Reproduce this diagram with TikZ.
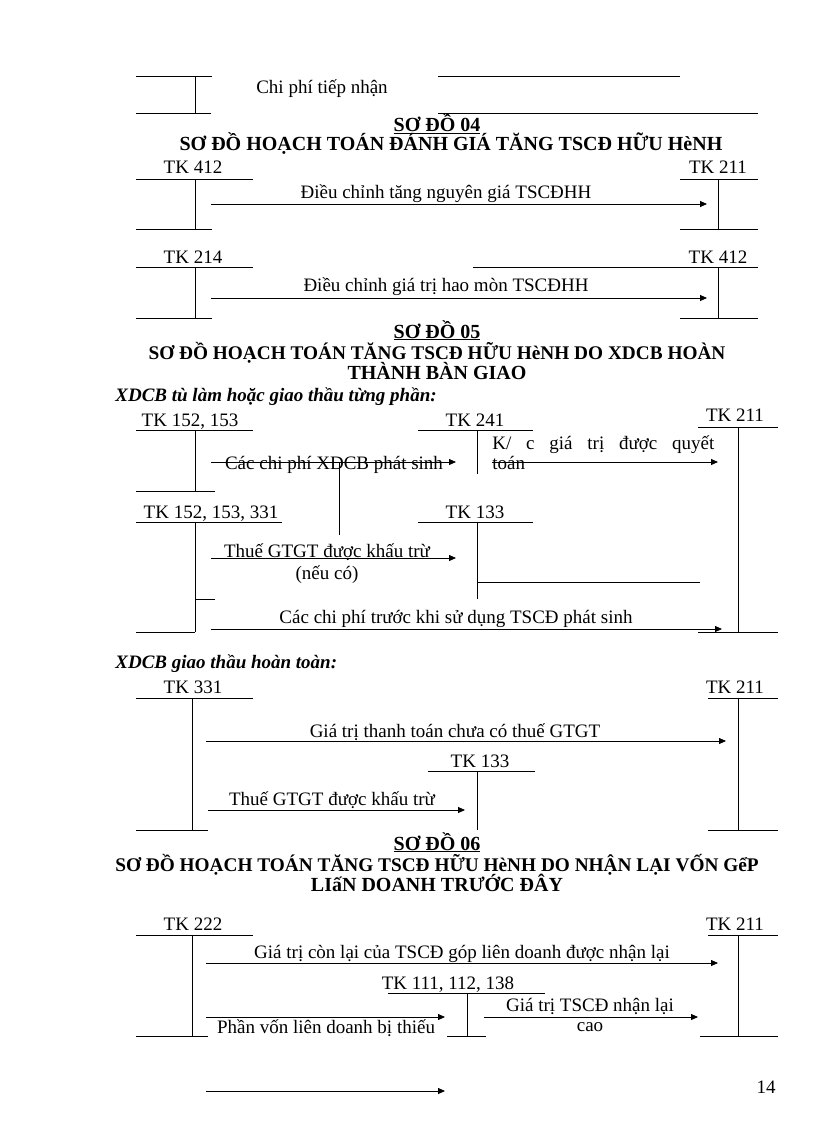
\documentclass[tikz,border=0pt]{standalone}
\usepackage{fontspec}
\setmainfont{Liberation Serif}
\usetikzlibrary{arrows.meta}
\begin{document}
\begin{tikzpicture}[x=1pt,y=-1pt,line width=0.8pt,
  lbl/.style={font=\fontsize{19}{22}\selectfont,inner sep=0pt,anchor=base},
  hd/.style={font=\bfseries\fontsize{20}{23}\selectfont,inner sep=0pt,anchor=base},
  hdn/.style={font=\bfseries\fontsize{19.3}{23}\selectfont,inner sep=0pt,anchor=base},
  sub/.style={font=\bfseries\itshape\fontsize{19}{22}\selectfont,inner sep=0pt,anchor=base west},
  arr/.style={-{Triangle[length=7pt,width=6pt]}},
  tline/.style={line width=0.8pt}]
\useasboundingbox (0,0) rectangle (816,1123);

% ---------- top fragment ----------
\draw[tline] (136,76) -- (212,76);
\draw[tline] (195,76) -- (195,113);
\draw[tline] (136,113) -- (211,113);
\draw[tline] (438,76) -- (680,76);
\draw[tline] (438,113) -- (758,113);
\node[lbl] (chiphi) at (322,94) {Chi phí tiếp nhận};

% ---------- SO DO 04 ----------
\node[hd] (s04) at (437,132) {\underline{SƠ ĐỒ 04}};
\node[hd] (h04) at (451,151) {SƠ ĐỒ HOẠCH TOÁN ĐÁNH GIÁ TĂNG TSCĐ HỮU HèNH};

% 04a
\node[lbl] (tk412a) at (193,174) {TK 412};
\draw[tline] (136,179) -- (253,179);
\draw[tline] (195,179) -- (195,229);
\draw[tline] (136,229) -- (212,229);
\node[lbl] (tk211a) at (718,174) {TK 211};
\draw[tline] (680,179) -- (758,179);
\draw[tline] (718,179) -- (718,229);
\draw[tline] (680,229) -- (758,229);
\coordinate (a1s) at (211,204);
\coordinate (a1e) at (707,204);
\draw[arr] (a1s) -- (a1e);
\node[lbl] (l1) at (446,199) {Điều chỉnh tăng nguyên giá TSCĐHH};

% 04b
\node[lbl] (tk214) at (193,263) {TK 214};
\draw[tline] (136,267) -- (253,267);
\draw[tline] (195,267) -- (195,318);
\draw[tline] (136,318) -- (212,318);
\node[lbl] (tk412b) at (718,263) {TK 412};
\draw[tline] (473,267) -- (758,267);
\draw[tline] (718,267) -- (718,318);
\draw[tline] (680,318) -- (758,318);
\coordinate (a2s) at (211,298);
\coordinate (a2e) at (707,298);
\draw[arr] (a2s) -- (a2e);
\node[lbl] (l2) at (446,291) {Điều chỉnh giá trị hao mòn TSCĐHH};

% ---------- SO DO 05 ----------
\node[hd] (s05) at (437,338) {\underline{SƠ ĐỒ 05}};
\node[hdn] (h05a) at (437,359) {SƠ ĐỒ HOẠCH TOÁN TĂNG TSCĐ HỮU HèNH DO XDCB HOÀN};
\node[hd] (h05b) at (437,379) {THÀNH BÀN GIAO};
\node[sub] (sub1) at (115,401) {XDCB tù làm hoặc giao thầu từng phần:};

% 05a
\node[lbl] (tk152a) at (190,426) {TK 152, 153};
\draw[tline] (136,430) -- (253,430);
\draw[tline] (195,430) -- (195,491);
\draw[tline] (136,491) -- (215,491);
\node[lbl] (tk241) at (475,426) {TK 241};
\draw[tline] (418,430) -- (533,430);
\draw[tline] (477,430) -- (477,474);
\node[lbl] (tk211b) at (735,421) {TK 211};
\draw[tline] (698,427) -- (778,427);
\draw[tline] (738,427) -- (738,632);
\draw[tline] (698,632) -- (778,632);
\node[lbl] (l3) at (334,469) {Các chi phí XDCB phát sinh};
\coordinate (a3s) at (211,462);
\coordinate (a3e) at (456,462);
\draw[arr] (a3s) -- (a3e);
\draw[tline] (339,462) -- (339,535);
\node[lbl,anchor=base west] (l4a) at (492,449) {\makebox[222pt][s]{K/ c giá trị được quyết}};
\node[lbl,anchor=base west] (l4b) at (492,469) {toán};
\coordinate (a4s) at (492,462);
\coordinate (a4e) at (718,462);
\draw[arr] (a4s) -- (a4e);

% 05b
\node[lbl] (tk152b) at (211,518) {TK 152, 153, 331};
\draw[tline] (136,522) -- (282,522);
\draw[tline] (195,522) -- (195,632);
\draw[tline] (195,599) -- (215,599);
\draw[tline] (136,632) -- (195,632);
\node[lbl] (tk133a) at (475,518) {TK 133};
\draw[tline] (418,522) -- (533,522);
\draw[tline] (477,522) -- (477,599);
\draw[tline] (477,582) -- (700,582);
\node[lbl] (l5a) at (327,557) {Thuế GTGT được khấu trừ};
\node[lbl] (l5b) at (327,579) {(nếu có)};
\coordinate (a5s) at (211,558);
\coordinate (a5e) at (456,558);
\draw[arr] (a5s) -- (a5e);
\node[lbl] (l6) at (456,623) {Các chi phí trước khi sử dụng TSCĐ phát sinh};
\coordinate (a6s) at (211,629);
\coordinate (a6e) at (722,629);
\draw[arr] (a6s) -- (a6e);

% 05c
\node[sub] (sub2) at (115,668) {XDCB giao thầu hoàn toàn:};
\node[lbl] (tk331) at (193,693) {TK 331};
\draw[tline] (136,698) -- (253,698);
\draw[tline] (192,698) -- (192,830);
\draw[tline] (136,830) -- (208,830);
\node[lbl] (tk211c) at (735,693) {TK 211};
\draw[tline] (708,698) -- (778,698);
\draw[tline] (738,698) -- (738,830);
\draw[tline] (708,830) -- (778,830);
\node[lbl] (l7) at (455,737) {Giá trị thanh\ toán chưa có thuế GTGT};
\coordinate (a7s) at (206,741);
\coordinate (a7e) at (726,741);
\draw[arr] (a7s) -- (a7e);
\node[lbl] (tk133b) at (480,767) {TK 133};
\draw[tline] (428,771) -- (535,771);
\draw[tline] (477,771) -- (477,830);
\node[lbl] (l8) at (332,805) {Thuế GTGT được khấu trừ};
\coordinate (a8s) at (208,810);
\coordinate (a8e) at (465,810);
\draw[arr] (a8s) -- (a8e);

% ---------- SO DO 06 ----------
\node[hd] (s06) at (437,850) {\underline{SƠ ĐỒ 06}};
\node[hdn] (h06a) at (437,871) {SƠ ĐỒ HOẠCH TOÁN TĂNG TSCĐ HỮU HèNH DO NHẬN LẠI VỐN GểP};
\node[hd] (h06b) at (437,891) {LIấN DOANH TRƯỚC ĐÂY};

\node[lbl] (tk222) at (193,930) {TK 222};
\draw[tline] (136,935) -- (253,935);
\draw[tline] (192,935) -- (192,1036);
\draw[tline] (136,1036) -- (208,1036);
\node[lbl] (tk211d) at (735,930) {TK 211};
\draw[tline] (708,935) -- (778,935);
\draw[tline] (738,935) -- (738,1036);
\draw[tline] (700,1036) -- (778,1036);
\node[lbl] (l9) at (462,958) {Giá trị còn lại\ của TSCĐ góp liên\ doanh được nhận lại};
\coordinate (a9s) at (206,963);
\coordinate (a9e) at (718,963);
\draw[arr] (a9s) -- (a9e);
\node[lbl] (tk111) at (448,989) {TK 111, 112, 138};
\draw[tline] (388,993) -- (545,993);
\draw[tline] (467,993) -- (467,1036);
\draw[tline] (447,1036) -- (486,1036);
\node[lbl] (l10) at (326,1033) {Phần vốn liên\ doanh bị thiếu};
\coordinate (a10s) at (206,1017);
\coordinate (a10e) at (445,1017);
\draw[arr] (a10s) -- (a10e);
\node[lbl] (l11a) at (590,1011) {Giá trị TSCĐ nhận lại};
\node[lbl] (l11b) at (590,1031) {cao};
\coordinate (a11s) at (484,1017);
\coordinate (a11e) at (698,1017);
\draw[arr] (a11s) -- (a11e);
\coordinate (a12s) at (206,1091);
\coordinate (a12e) at (445,1091);
\draw[arr] (a12s) -- (a12e);
\node[lbl] (pg) at (766,1093) {14};
\end{tikzpicture}
\end{document}
